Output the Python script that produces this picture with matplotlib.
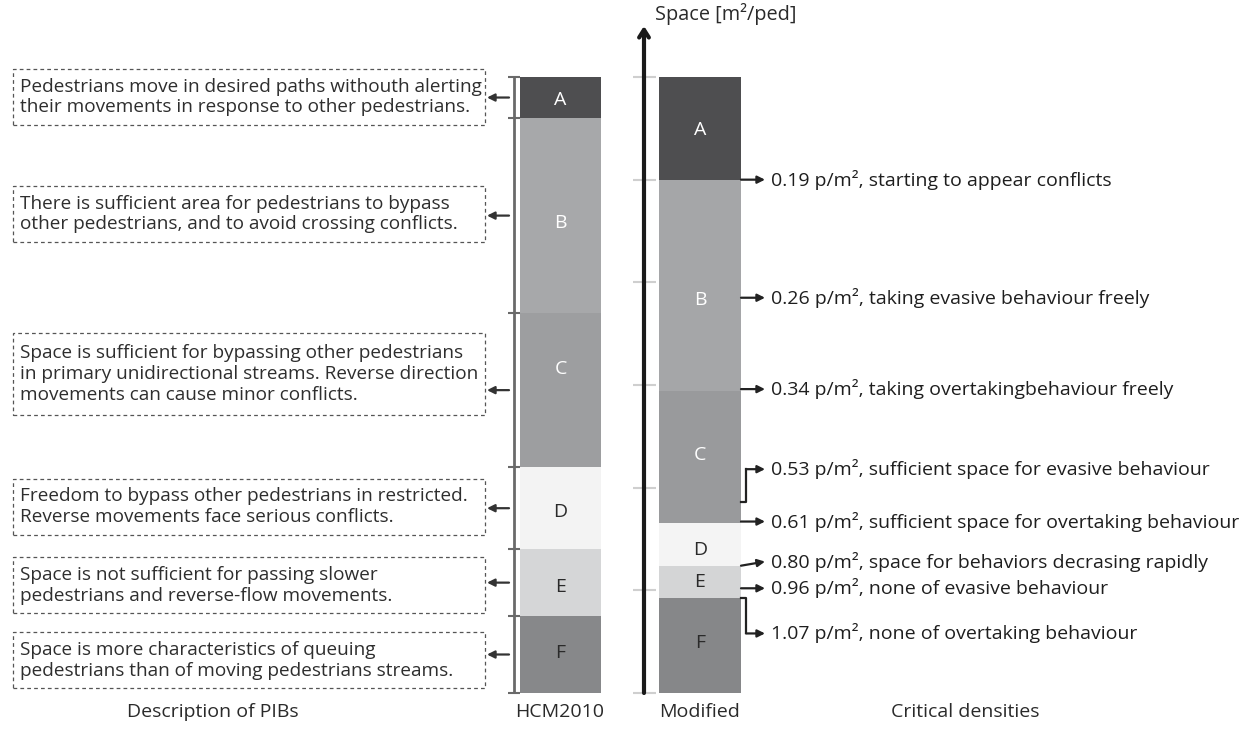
import matplotlib.pyplot as plt
from matplotlib.patches import Rectangle

plt.rcParams['font.family'] = ['Open Sans', 'DejaVu Sans']

# level of service bands
levels = ['A', 'B', 'C', 'D', 'E', 'F']
# boundaries in space [m2/ped], top to bottom
hcm_bounds = [6.0, 5.6, 3.7, 2.2, 1.4, 0.75, 0.0]
mod_bounds = [6.0, 5.0, 2.94, 1.66, 1.24, 0.93, 0.0]

hcm_colors = ['#4e4e50', '#a7a8aa', '#9d9ea0', '#f3f3f3', '#d5d6d7', '#87888a']
mod_colors = ['#4e4e50', '#a5a6a8', '#999a9c', '#f4f4f4', '#d4d5d6', '#868789']
txt_colors = ['white', 'white', 'white', '#2a2a2a', '#2a2a2a', '#2a2a2a']

hcm_label_y = [5.78, 4.58, 3.16, 1.76, 1.03, 0.39]
mod_label_y = [5.48, 3.83, 2.32, 1.39, 1.08, 0.49]

descriptions = [
    "Pedestrians move in desired paths withouth alerting\ntheir movements in response to other pedestrians.",
    "There is sufficient area for pedestrians to bypass\nother pedestrians, and to avoid crossing conflicts.",
    "Space is sufficient for bypassing other pedestrians\nin primary unidirectional streams. Reverse direction\nmovements can cause minor conflicts.",
    "Freedom to bypass other pedestrians in restricted.\nReverse movements face serious conflicts.",
    "Space is not sufficient for passing slower\npedestrians and reverse-flow movements.",
    "Space is more characteristics of queuing\npedestrians than of moving pedestrians streams.",
]
desc_center = [5.805, 4.665, 3.11, 1.815, 1.05, 0.32]

# critical densities [p/m2]
crit_density = [0.19, 0.26, 0.34, 0.53, 0.61, 0.80, 0.96, 1.07]
crit_desc = ["starting to appear conflicts", "taking evasive behaviour freely",
             "taking overtakingbehaviour freely", "sufficient space for evasive behaviour",
             "sufficient space for overtaking behaviour", "space for behaviors decrasing rapidly",
             "none of evasive behaviour", "none of overtaking behaviour"]
crit_from = [5.0, 3.85, 2.96, 1.86, 1.67, 1.24, 1.02, 0.93]
crit_text_y = [5.0, 3.85, 2.96, 2.18, 1.67, 1.28, 1.02, 0.58]

ppu = 102.667  # pixels per m2/ped
fig = plt.figure(figsize=(12.51, 7.36), dpi=100)
ax = fig.add_axes([0, 0, 1, 1])
ax.set_xlim(0, 1251)
ax.set_ylim(-43 / ppu, 693 / ppu)
ax.axis('off')

# HCM2010 column
tops = hcm_bounds[:-1]
bots = hcm_bounds[1:]
ax.bar(560.5, [t - b for t, b in zip(tops, bots)], bottom=bots, width=81,
       color=hcm_colors, edgecolor='none')
for lv, y, c in zip(levels, hcm_label_y, txt_colors):
    ax.text(560.5, y, lv, ha='center', va='center', fontsize=14, color=c)

# bracket
ax.vlines(514, 0, 6, color='#6a6a6a', lw=2)
ax.hlines(hcm_bounds, 508, 520, color='#6a6a6a', lw=1.5)

# descriptions
for txt, yc, t, b in zip(descriptions, desc_center, tops, bots):
    n = txt.count('\n') + 1
    h = (0.545 if n == 2 else 0.80)
    ax.add_patch(Rectangle((13, yc - h / 2), 472, h, fill=False, ec='#555555',
                           lw=0.9, ls=(0, (3, 2.5))))
    ax.text(20, yc, txt, ha='left', va='center', fontsize=13.7, color='#2e2e2e',
            linespacing=1.2)
    ym = (t + b) / 2
    ax.annotate('', xy=(487, ym), xytext=(509, ym),
                arrowprops=dict(arrowstyle='-|>', lw=1.6, color='#333333',
                                mutation_scale=11, shrinkA=0, shrinkB=0))

# modified column
mtops = mod_bounds[:-1]
mbots = mod_bounds[1:]
ax.bar(700, [t - b for t, b in zip(mtops, mbots)], bottom=mbots, width=82,
       color=mod_colors, edgecolor='none')
for lv, y, c in zip(levels, mod_label_y, txt_colors):
    ax.text(700, y, lv, ha='center', va='center', fontsize=14, color=c)

# space axis
ax.hlines(range(7), 633, 656, color='#cfcfcf', lw=1.5)
ax.annotate('', xy=(644, 667 / ppu), xytext=(644, 0),
            arrowprops=dict(arrowstyle='->,head_width=0.35,head_length=0.55', lw=3,
                            color='#1a1a1a', shrinkA=0, shrinkB=0))
ax.text(655, 679 / ppu, 'Space [m²/ped]', ha='left', va='center', fontsize=14.3,
        color='#2a2a2a')

# critical densities
for d, s, y0, y1 in zip(crit_density, crit_desc, crit_from, crit_text_y):
    ak = dict(arrowstyle='-|>', lw=1.6, color='#222222', mutation_scale=11,
              shrinkA=0, shrinkB=0)
    if abs(y1 - y0) > 0.1:
        ax.plot([741, 746, 746], [y0, y0, y1], color='#222222', lw=1.6)
        ax.annotate('', xy=(765, y1), xytext=(746, y1), arrowprops=ak)
    else:
        ax.annotate('', xy=(765, y1), xytext=(741, y0), arrowprops=ak)
    ax.text(771, y1, f'{d:.2f} p/m², {s}', ha='left', va='center', fontsize=14,
            color='#1e1e1e')

# bottom captions
cap_y = -19 / ppu
ax.text(213, cap_y, 'Description of PIBs', ha='center', va='center', fontsize=14, color='#2a2a2a')
ax.text(560, cap_y, 'HCM2010', ha='center', va='center', fontsize=14, color='#2a2a2a')
ax.text(700, cap_y, 'Modified', ha='center', va='center', fontsize=14, color='#2a2a2a')
ax.text(965, cap_y, 'Critical densities', ha='center', va='center', fontsize=14, color='#2a2a2a')

fig.savefig('out.png', dpi=100)
